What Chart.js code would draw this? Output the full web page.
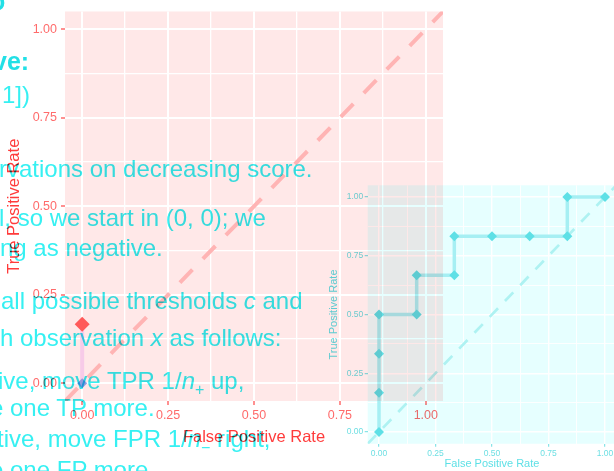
<!DOCTYPE html>
<html>
<head>
<meta charset="utf-8">
<script src="https://cdn.jsdelivr.net/npm/chart.js@4.4.1/dist/chart.umd.min.js"></script>
<style>
  html, body { margin: 0; padding: 0; background: #fff; width: 614px; height: 471px; overflow: hidden; position: relative; }
  canvas { position: absolute; left: 0; top: 0; }
  #rocSmall { mix-blend-mode: multiply; }
  #slide { position: absolute; left: 0; top: 0; width: 614px; height: 471px; mix-blend-mode: multiply;
           font-family: "Liberation Sans", Arial, sans-serif; font-size: 24px; color: #36f0f2; }
  #slide div { position: absolute; white-space: nowrap; line-height: 1; }
  #slide .h { font-weight: bold; font-size: 25px; color: #22e0e6; }
</style>
</head>
<body>
<canvas id="rocBig" width="614" height="471"></canvas>
<canvas id="rocSmall" width="630" height="471"></canvas>
<div id="slide">
  <div class="h" style="left:-10px;top:-11px">o</div>
  <div class="h" style="left:-7px;top:49px">ve:</div>
  <div style="left:2px;top:83px">1])</div>
  <div style="left:-1px;top:157px">rvations on decreasing score.</div>
  <div style="left:-1px;top:206px">l, so we start in (0, 0); we</div>
  <div style="left:0px;top:236px">ng as negative.</div>
  <div style="left:1px;top:289px">all possible thresholds <i>c</i> and</div>
  <div style="left:0px;top:326px">h observation <i>x</i> as follows:</div>
  <div style="left:-2px;top:369px">ive, move TPR 1/<i>n</i><sub style="font-size:16px">+</sub> up,</div>
  <div style="left:-10px;top:396px">e one TP more.</div>
  <div style="left:-3px;top:427px">tive, move FPR 1/<i>n</i><sub style="font-size:16px">−</sub> right,</div>
  <div style="left:-10px;top:458px">e one FP more.</div>
</div>
<script>
// ROC points of the first step (big panel)
const stepFpr = [0, 0];
const stepTpr = [0, 0.1667];

// full ROC curve (small panel)
const rocFpr = [0, 0, 0, 0, 0.1667, 0.1667, 0.3333, 0.3333, 0.5, 0.6667, 0.8333, 0.8333, 1];
const rocTpr = [0, 0.1667, 0.3333, 0.5, 0.5, 0.6667, 0.6667, 0.8333, 0.8333, 0.8333, 0.8333, 1, 1];

// chance diagonal, drawn across the whole panel
const diagonal = [-0.05, 1.05];

// axis breaks
const majorTicks = [0, 0.25, 0.5, 0.75, 1];
const gridBreaks = [0, 0.125, 0.25, 0.375, 0.5, 0.625, 0.75, 0.875, 1];
const axisRange = [-0.05, 1.05];

Chart.defaults.font.family = '"Liberation Sans", Arial, sans-serif';

const panelBg = {
  id: 'panelBg',
  beforeDraw(chart, args, opts) {
    const { ctx, chartArea: a } = chart;
    ctx.save();
    ctx.fillStyle = opts.color;
    ctx.fillRect(a.left, a.top, a.right - a.left, a.bottom - a.top);
    ctx.restore();
  }
};

const pts = (xs, ys) => xs.map((x, i) => ({ x: x, y: ys[i] }));

function axis(o) {
  const isMajor = ctx => ctx.tick && majorTicks.includes(ctx.tick.value);
  return {
    type: 'linear',
    min: axisRange[0],
    max: axisRange[1],
    afterBuildTicks: s => { s.ticks = gridBreaks.map(v => ({ value: v })); },
    afterFit: s => { if (o.width) s.width = o.width; if (o.height) s.height = o.height; },
    border: { display: false },
    grid: {
      color: '#ffffff',
      lineWidth: ctx => isMajor(ctx) ? o.major : o.minor,
      tickLength: o.tickLen,
      tickWidth: o.tickW,
      tickColor: ctx => isMajor(ctx) ? o.tickColor : 'rgba(0,0,0,0)'
    },
    ticks: {
      autoSkip: false,
      maxRotation: 0,
      padding: o.tickPad,
      color: o.tickColor,
      font: { size: o.tickSize },
      callback: v => majorTicks.includes(v) ? v.toFixed(2) : ''
    },
    title: {
      display: true,
      text: o.title,
      color: o.titleColor,
      font: { size: o.titleSize },
      padding: o.titlePad
    }
  };
}

new Chart(document.getElementById('rocBig'), {
  type: 'scatter',
  data: {
    datasets: [{
      data: pts(stepFpr, stepTpr),
      showLine: true,
      borderColor: '#f7cbe8',
      borderWidth: 4,
      pointStyle: 'rectRot',
      pointRadius: [5, 7.5],
      pointBackgroundColor: ['#909ce0', '#ff5a5a'],
      pointBorderWidth: 0
    }, {
      data: pts(diagonal, diagonal),
      showLine: true,
      borderColor: '#ffb4b4',
      borderWidth: 4,
      borderDash: [18, 15],
      pointRadius: 0
    }]
  },
  options: {
    responsive: false,
    animation: false,
    layout: { padding: { left: 0, right: 171, top: 7, bottom: 0 } },
    plugins: { legend: { display: false }, tooltip: { enabled: false }, panelBg: { color: '#ffe8e8' } },
    scales: {
      x: axis({ height: 70, major: 2, minor: 1.3, tickLen: 4, tickW: 1.5, tickPad: 3, tickColor: '#ff6b6b', tickSize: 12.5,
                title: 'False Positive Rate', titleColor: '#ff3b3b', titleSize: 16.5, titlePad: { top: 0, bottom: 24 } }),
      y: axis({ width: 65, major: 2, minor: 1.3, tickLen: 4, tickW: 1.5, tickPad: 4, tickColor: '#ff6b6b', tickSize: 12.5,
                title: 'True Positive Rate', titleColor: '#ff3b3b', titleSize: 16.5, titlePad: { top: 5, bottom: 0 } })
    }
  },
  plugins: [panelBg]
});

new Chart(document.getElementById('rocSmall'), {
  type: 'scatter',
  data: {
    datasets: [{
      data: pts(rocFpr, rocTpr),
      showLine: true,
      borderColor: '#a6eff3',
      borderWidth: 3.5,
      pointStyle: 'rectRot',
      pointRadius: 5,
      pointBackgroundColor: '#5ee0e6',
      pointBorderWidth: 0
    }, {
      data: pts(diagonal, diagonal),
      showLine: true,
      borderColor: '#aef2f2',
      borderWidth: 2.7,
      borderDash: [12, 10],
      pointRadius: 0
    }]
  },
  options: {
    responsive: false,
    animation: false,
    layout: { padding: { left: 300, right: 13.7, top: 185.3, bottom: 0 } },
    plugins: { legend: { display: false }, tooltip: { enabled: false }, panelBg: { color: '#e6ffff' } },
    scales: {
      x: axis({ height: 27.25, major: 1.4, minor: 0.9, tickLen: 3, tickW: 1, tickPad: 1.5, tickColor: '#6ddfe3', tickSize: 8.5,
                title: 'False Positive Rate', titleColor: '#5ee0e6', titleSize: 11, titlePad: { top: 0, bottom: 0 } }),
      y: axis({ width: 67.7, major: 1.4, minor: 0.9, tickLen: 3, tickW: 1, tickPad: 1.5, tickColor: '#6ddfe3', tickSize: 8.5,
                title: 'True Positive Rate', titleColor: '#5ee0e6', titleSize: 11, titlePad: { top: 27.4, bottom: 0 } })
    }
  },
  plugins: [panelBg]
});
</script>
</body>
</html>
